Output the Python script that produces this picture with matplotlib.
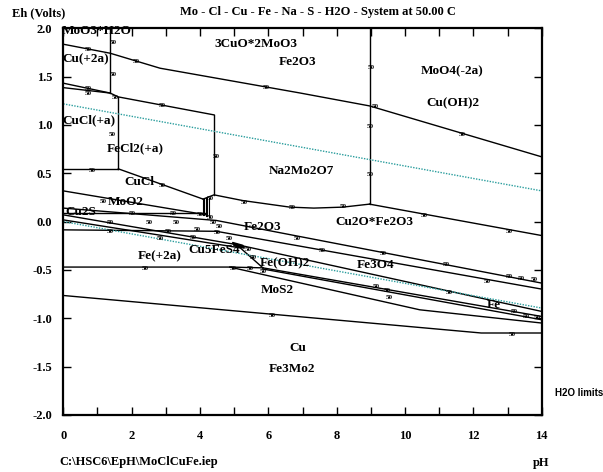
import numpy as np
import matplotlib.pyplot as plt

# Eh-pH diagram, Mo-Cl-Cu-Fe-Na-S-H2O at 50 C

# upper stability boundaries (pH list, Eh list)
line_top = ([0, 1.37, 2.83, 6.92, 8.96, 14], [1.835, 1.742, 1.587, 1.331, 1.197, 0.670])
line_v1 = ([1.37, 1.37], [2.0, 1.33])
line_c1 = ([0, 1.37], [1.432, 1.33])
line_c2 = ([0, 1.37, 1.61, 4.41], [1.386, 1.33, 1.29, 1.104])
line_v2 = ([1.61, 1.61], [1.29, 0.546])
line_h1 = ([0, 1.61], [0.546, 0.546])
line_v3 = ([4.41, 4.41], [1.104, 0.277])
line_v4 = ([8.96, 8.96], [2.0, 0.181])
line_cucl = ([1.61, 4.09], [0.546, 0.233])
line_na2mo2o7 = ([4.09, 4.41, 5.25, 6.63, 7.33, 8.18, 8.96], [0.233, 0.277, 0.218, 0.150, 0.140, 0.150, 0.181])
line_cu2ofe2o3 = ([8.96, 14], [0.181, -0.144])

# middle boundaries
line_moo2 = ([0, 4.19], [0.318, 0.070])
line_h2 = ([0, 4.19], [0.094, 0.094])
line_fe2o3 = ([0, 4.48, 14], [0.140, 0.012, -0.636])
line_fe3o4 = ([0, 4.48, 14], [-0.085, -0.100, -0.698])
line_cu2s_a = ([0, 5.11], [0.070, -0.240])
line_cu2s_b = ([0, 5.17], [0.018, -0.271])
line_blob_a = ([5.11, 14], [-0.240, -0.929])
line_feoh2 = ([5.11, 5.84], [-0.250, -0.478])

# lower boundaries
line_fe2a = ([0, 4.87, 5.84], [-0.470, -0.470, -0.478])
line_fe_b = ([5.84, 14], [-0.478, -0.981])
line_fe_c = ([5.84, 14], [-0.490, -1.015])
line_fe_d = ([4.87, 10.43, 14], [-0.470, -0.912, -1.049])
line_mos2 = ([0, 12.23, 14], [-0.764, -1.152, -1.152])

# small ladder near pH 4.1 and dark knot near pH 5.1
ladder_ph = [4.09, 4.13, 4.17, 4.21, 4.25]
ladder_top = [0.233, 0.236, 0.240, 0.244, 0.248]
ladder_bottom = [0.070, 0.066, 0.062, 0.058, 0.055]
knot_ph = [4.95, 5.25, 5.30, 5.00]
knot_eh = [-0.215, -0.245, -0.275, -0.250]

# water stability limits
h2o_ph = [0, 14]
h2o_upper = [1.218, 0.318]
h2o_lower = [0.001, -0.894]

# region names
region_names = ["MoO3*H2O", "3CuO*2MoO3", "Fe2O3", "MoO4(-2a)", "Cu(OH)2", "Cu(+2a)",
                "CuCl(+a)", "FeCl2(+a)", "Na2Mo2O7", "CuCl", "MoO2", "Cu2S", "Fe2O3",
                "Cu2O*Fe2O3", "Cu5FeS4", "Fe(+2a)", "Fe(OH)2", "Fe3O4", "MoS2", "Fe",
                "Cu", "Fe3Mo2"]
region_ph = [0.98, 5.63, 6.86, 11.38, 11.39, 0.66, 0.75, 2.10, 6.98, 2.24, 1.83, 0.52,
             5.82, 9.11, 4.41, 2.83, 6.48, 9.14, 6.25, 12.59, 6.86, 6.70]
region_eh = [1.972, 1.837, 1.655, 1.551, 1.225, 1.680, 1.045, 0.760, 0.528, 0.414, 0.208,
             0.104, -0.057, 0.001, -0.292, -0.361, -0.429, -0.447, -0.705, -0.860,
             -1.307, -1.520]

# "50" temperature tags along the lines
tag_ph = [1.45, 0.72, 2.15, 1.45, 0.72, 0.72, 1.51, 2.91, 5.95, 9.02, 9.14, 11.68, 8.97,
          8.97, 1.42, 4.49, 0.84, 2.89, 1.16, 4.29, 4.29, 2.01, 3.21, 1.37, 1.37, 2.53,
          3.32, 3.06, 3.91, 3.79, 4.38, 4.52, 4.87, 5.40, 5.55, 5.31, 6.71, 8.18, 6.86,
          7.59, 9.35, 2.39, 4.96, 5.46, 5.84, 9.17, 9.49, 9.55, 10.57, 13.06, 11.22,
          12.41, 13.06, 13.41, 13.79, 11.30, 13.20, 13.55, 13.88, 13.14, 6.13, 4.02,
          4.55, 2.83]
tag_eh = [1.858, 1.776, 1.652, 1.517, 1.373, 1.321, 1.280, 1.197, 1.383, 1.590, 1.187,
          0.897, 0.980, 0.484, 0.897, 0.670, 0.525, 0.370, 0.205, 0.236, 0.040, 0.081,
          0.081, -0.012, -0.105, -0.012, -0.012, -0.105, -0.084, -0.167, -0.012,
          -0.110, -0.177, -0.291, -0.374, 0.194, 0.143, 0.153, -0.178, -0.302, -0.333,
          -0.488, -0.488, -0.488, -0.515, -0.674, -0.715, -0.788, 0.060, -0.105,
          -0.446, -0.622, -0.570, -0.591, -0.601, -0.736, -0.932, -0.984, -0.994,
          -1.170, -0.974, 0.070, -0.050, -0.178]

x_ticks = [0, 2, 4, 6, 8, 10, 12, 14]
y_ticks = [-2.0, -1.5, -1.0, -0.5, 0.0, 0.5, 1.0, 1.5, 2.0]

serif = "Liberation Serif"

fig = plt.figure(figsize=(6.03, 4.72), dpi=100)
ax = fig.add_axes([0.105, 0.1208, 0.7934, 0.8193])

all_lines = [line_top, line_v1, line_c1, line_c2, line_v2, line_h1, line_v3, line_v4,
             line_cucl, line_na2mo2o7, line_cu2ofe2o3, line_moo2, line_h2, line_fe2o3,
             line_fe3o4, line_cu2s_a, line_cu2s_b, line_blob_a, line_feoh2, line_fe2a,
             line_fe_b, line_fe_c, line_fe_d, line_mos2]
for ph, eh in all_lines:
    ax.plot(ph, eh, color="black", lw=1.0, solid_joinstyle="miter")

for x, t, b in zip(ladder_ph, ladder_top, ladder_bottom):
    ax.plot([x, x], [t, b], color="black", lw=0.8)
ax.fill(knot_ph, knot_eh, color="black")

ax.plot(h2o_ph, h2o_upper, color="#2a9d9d", lw=1.0, ls=(0, (1, 1)))
ax.plot(h2o_ph, h2o_lower, color="#2a9d9d", lw=1.0, ls=(0, (1, 1)))

for name, x, y in zip(region_names, region_ph, region_eh):
    ax.text(x, y, name, ha="center", va="center", fontsize=9.5,
            family=serif, weight="bold")

for x, y in zip(tag_ph, tag_eh):
    ax.text(x, y, "50", ha="center", va="center", fontsize=5.2,
            family=serif, weight="bold")

ax.set_xlim(0, 14)
ax.set_ylim(-2.0, 2.0)
ax.set_xticks(x_ticks)
ax.set_xticks(np.arange(0, 15, 1), minor=True)
ax.set_yticks(y_ticks)
ax.set_xticklabels([str(v) for v in x_ticks])
ax.set_yticklabels([f"{v:.1f}" for v in y_ticks])
ax.tick_params(which="both", direction="in", top=True, right=True, length=6, width=1.0)
ax.tick_params(axis="x", which="major", pad=11)
ax.tick_params(axis="y", which="major", pad=8)
for lab in ax.get_xticklabels() + ax.get_yticklabels():
    lab.set_family(serif)
    lab.set_weight("bold")
    lab.set_fontsize(9)
for sp in ax.spines.values():
    sp.set_linewidth(1.6)

fig.text(0.528, 0.975, "Mo - Cl - Cu - Fe - Na - S - H2O - System at 50.00 C",
         ha="center", va="center", fontsize=9, family=serif, weight="bold")
fig.text(0.02, 0.972, "Eh (Volts)", ha="left", va="center", fontsize=9,
         family=serif, weight="bold")
fig.text(0.897, 0.019, "pH", ha="center", va="center", fontsize=9,
         family=serif, weight="bold")
fig.text(0.098, 0.021, "C:\\HSC6\\EpH\\MoClCuFe.iep", ha="left", va="center",
         fontsize=9, family=serif, weight="bold")
fig.text(0.920, 0.167, "H2O limits", ha="left", va="center", fontsize=7,
         family="Liberation Sans", weight="bold")

fig.savefig("out.png", dpi=100)
